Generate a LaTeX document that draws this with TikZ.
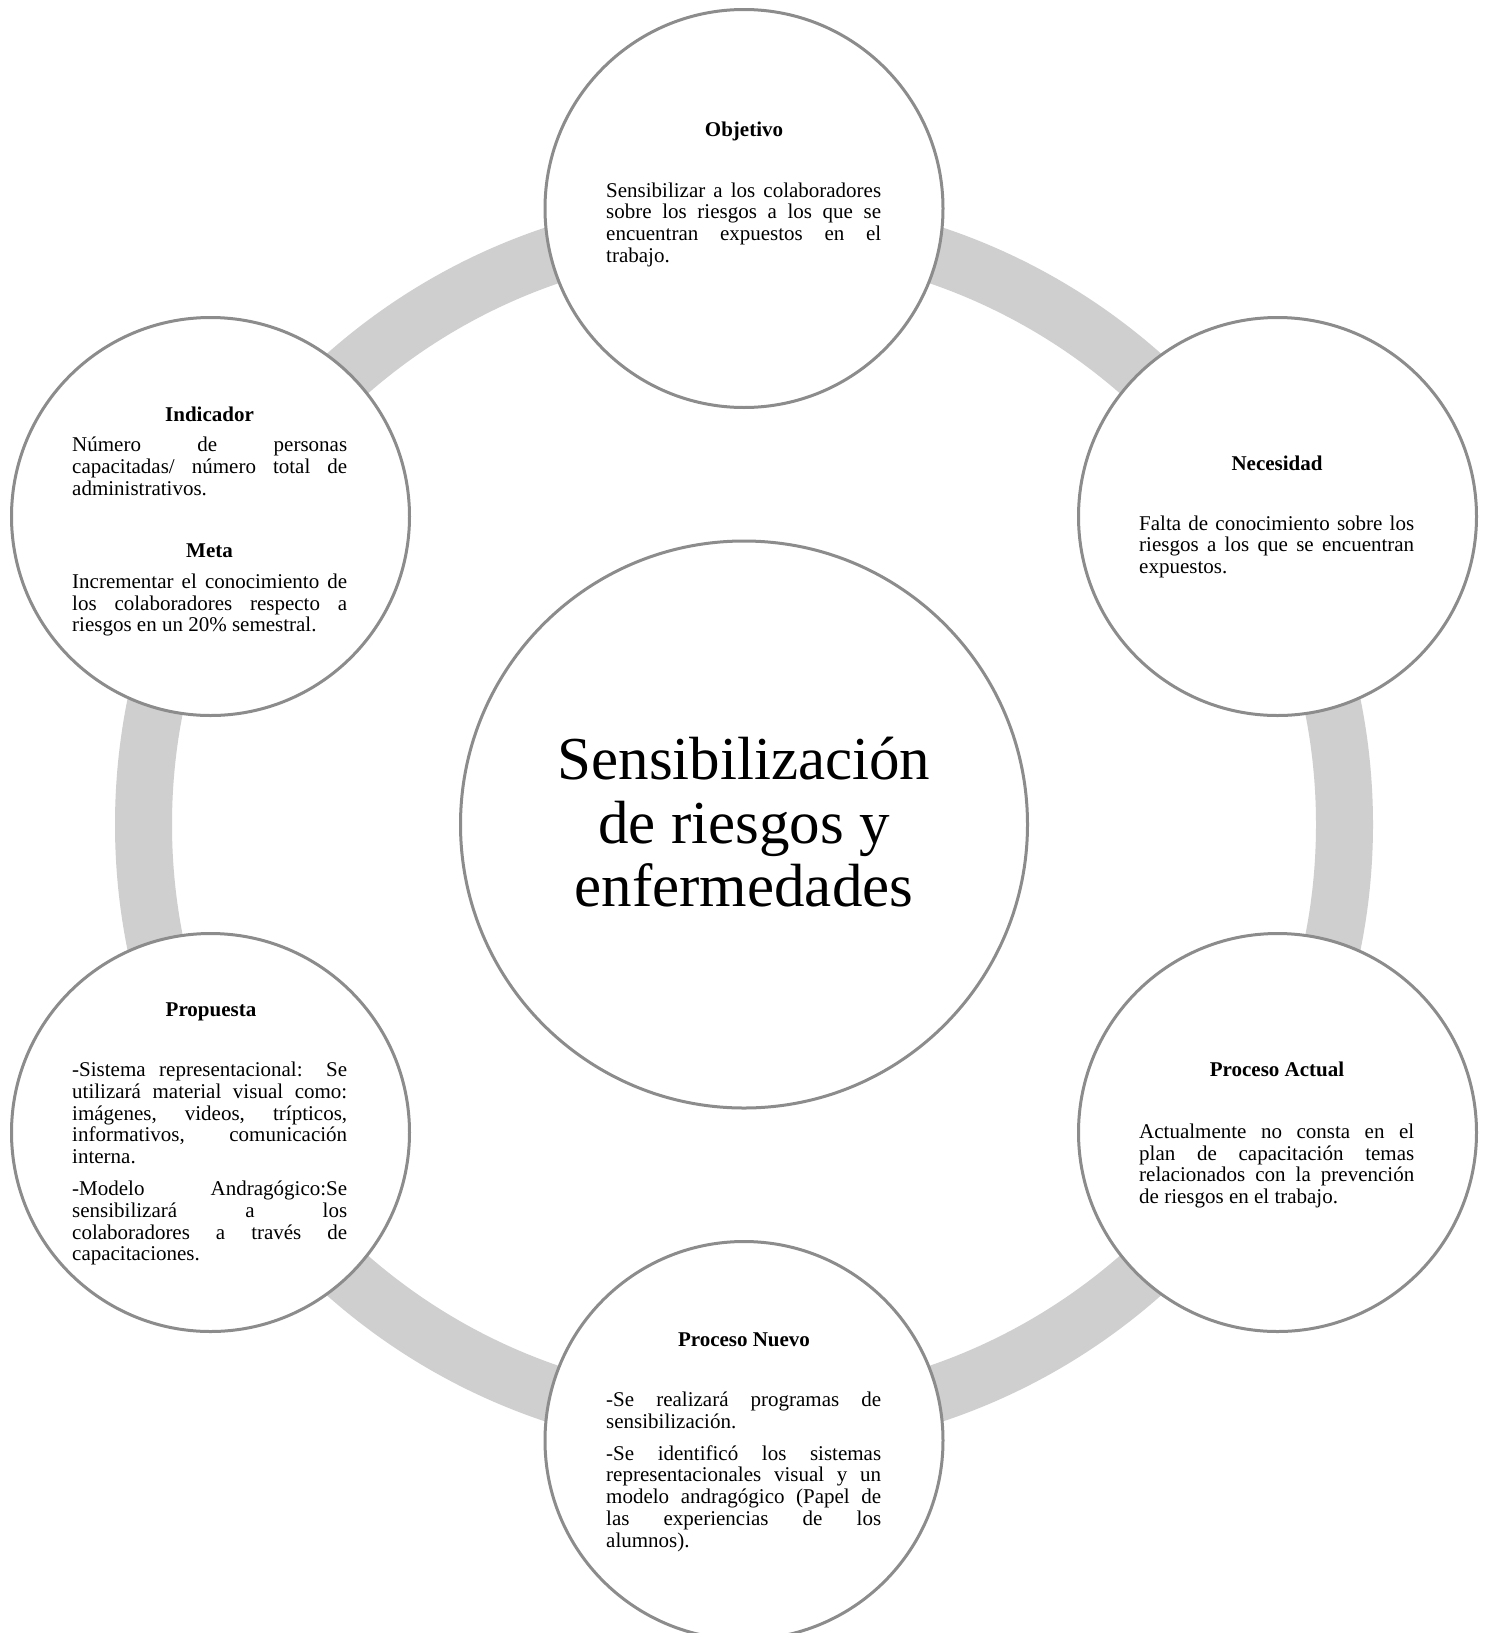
\documentclass[tikz,border=0pt]{standalone}
\usepackage{fontspec}
\setmainfont{Liberation Serif}
\definecolor{ringgray}{RGB}{207,207,207}
\definecolor{edgegray}{RGB}{140,140,140}
% one justified line of body text, and the last (ragged) line of a paragraph
\newcommand\Jline[1]{\hbox to 275pt{#1}}
\newcommand\Lline[1]{\hbox{#1}}
% a paragraph whose reference point is the baseline of its first line
\newcommand\Body[1]{\vtop{\fontsize{21}{21.75}\selectfont
  \baselineskip=21.75pt\lineskiplimit=-1000pt #1}}
\tikzset{
  satellite/.style={circle, draw=edgegray, line width=3pt, fill=white,
    minimum size=398pt, inner sep=0pt},
  hub/.style={circle, draw=edgegray, line width=3pt, fill=white,
    minimum size=567pt, inner sep=0pt},
  heading/.style={anchor=base, inner sep=0pt,
    font=\fontsize{21}{21.75}\selectfont\bfseries},
  bodytext/.style={anchor=base west, inner sep=0pt},
}
\begin{document}
\begin{tikzpicture}[x=1pt, y=-1pt]
\useasboundingbox (0,0) rectangle (1486,1633);
\fill[white] (0,0) rectangle (1486,1633);
\coordinate (c) at (744,824.5);
% the grey ring that links the six topics
\draw[ringgray, line width=57pt] (c) circle (600.5pt);
% central topic
\node[hub] (hub) at (c) {};
\node[anchor=base, inner sep=0pt] (hubT) at (744,779.3) {\vtop{\fontsize{61}{63.7}\selectfont
  \baselineskip=63.7pt\lineskiplimit=-1000pt \hsize=520pt
  \hbox to \hsize{\hss Sensibilización\hss}
  \hbox to \hsize{\hss de riesgos y\hss}
  \hbox to \hsize{\hss enfermedades\hss}}};
% six topic circles
\node[satellite] (obj)  at (744,208.5)    {};
\node[satellite] (nec)  at (1277.5,516.5) {};
\node[satellite] (pact) at (1277.5,1132.5) {};
\node[satellite] (pnue) at (744,1440.5)   {};
\node[satellite] (prop) at (210.5,1132.5) {};
\node[satellite] (ind)  at (210.5,516.5)  {};
% Objetivo
\node[heading] (objH) at (744,136) {Objetivo};
\node[bodytext] (objT) at (606,197) {\Body{%
  \Jline{Sensibilizar a los colaboradores}
  \Jline{sobre los riesgos a los que se}
  \Jline{encuentran expuestos en el}
  \Lline{trabajo.}}};
% Necesidad
\node[heading] (necH) at (1277,470) {Necesidad};
\node[bodytext] (necT) at (1139,530) {\Body{%
  \Jline{Falta de conocimiento sobre los}
  \Jline{riesgos a los que se encuentran}
  \Lline{expuestos.}}};
% Proceso Actual
\node[heading] (pactH) at (1277,1076.7) {Proceso Actual};
\node[bodytext] (pactT) at (1139,1138.3) {\Body{%
  \Jline{Actualmente no consta en el}
  \Jline{plan de capacitación temas}
  \Jline{relacionados con la prevención}
  \Lline{de riesgos en el trabajo.}}};
% Proceso Nuevo
\node[heading] (pnueH) at (744,1346) {Proceso Nuevo};
\node[bodytext] (pnueA) at (606,1406.7) {\Body{%
  \Jline{-Se realizará programas de}
  \Lline{sensibilización.}}};
\node[bodytext] (pnueB) at (606,1460) {\Body{%
  \Jline{-Se identificó los sistemas}
  \Jline{representacionales visual y un}
  \Jline{modelo andragógico (Papel de}
  \Jline{las experiencias de los}
  \Lline{alumnos).}}};
% Propuesta
\node[heading] (propH) at (211,1016) {Propuesta};
\node[bodytext] (propA) at (72,1076.7) {\Body{%
  \Jline{-Sistema representacional: Se}
  \Jline{utilizará material visual como:}
  \Jline{imágenes, videos, trípticos,}
  \Jline{informativos, comunicación}
  \Lline{interna.}}};
\node[bodytext] (propB) at (72,1195.7) {\Body{%
  \Jline{-Modelo Andragógico:Se}
  \Jline{sensibilizará a los}
  \Jline{colaboradores a través de}
  \Lline{capacitaciones.}}};
% Indicador and Meta
\node[heading] (indH) at (209.5,421.7) {Indicador};
\node[bodytext] (indT) at (72,451.7) {\Body{%
  \Jline{Número de personas}
  \Jline{capacitadas/ número total de}
  \Lline{administrativos.}}};
\node[heading] (metaH) at (209.5,557.7) {Meta};
\node[bodytext] (metaT) at (72,588.3) {\Body{%
  \Jline{Incrementar el conocimiento de}
  \Jline{los colaboradores respecto a}
  \Lline{riesgos en un 20\% semestral.}}};
\end{tikzpicture}
\end{document}
